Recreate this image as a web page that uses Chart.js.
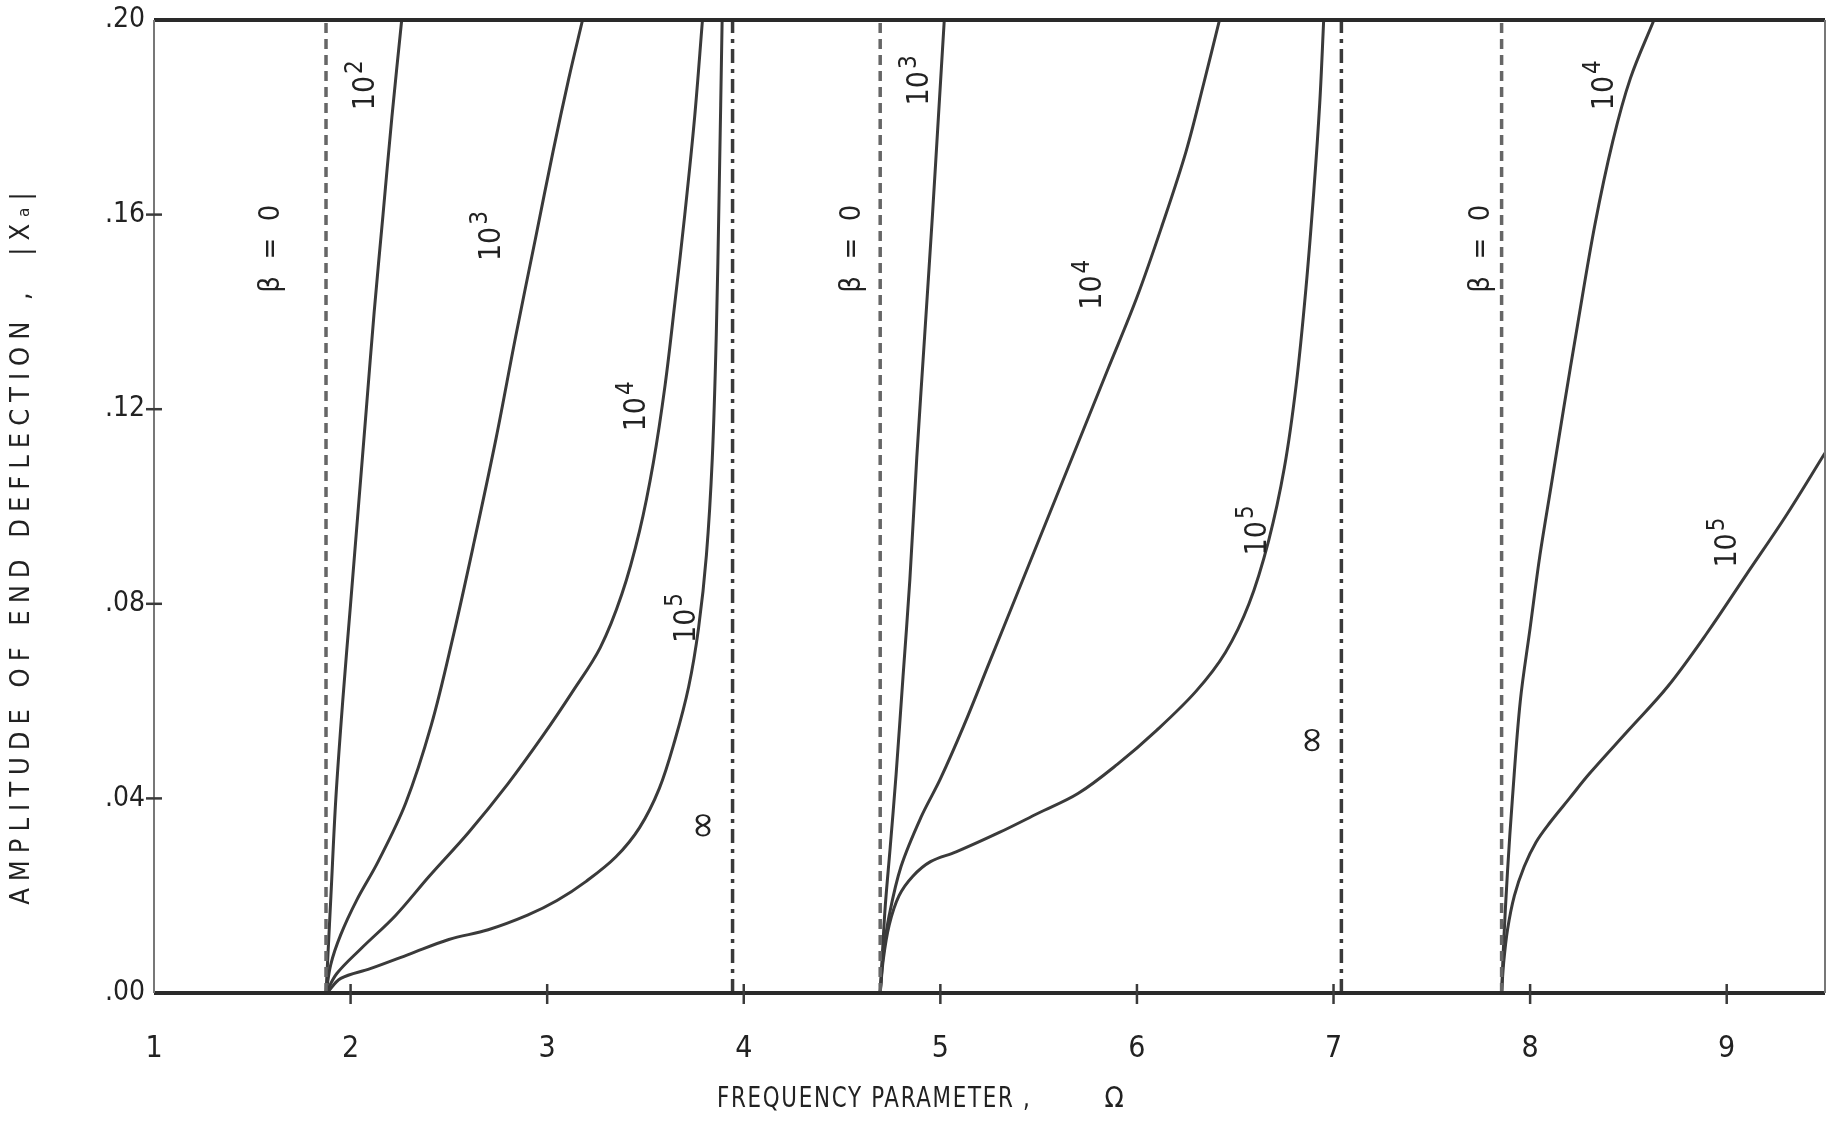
<!DOCTYPE html>
<html>
<head>
<meta charset="utf-8">
<title>Amplitude of end deflection</title>
<script src="https://cdn.jsdelivr.net/npm/chart.js@4.4.1/dist/chart.umd.min.js"></script>
<style>
  html, body { margin: 0; padding: 0; background: #fff; }
  #wrap { width: 1835px; height: 1121px; position: relative; }
</style>
</head>
<body>
<div id="wrap"><canvas id="deflectionChart"></canvas></div>
<script>
// axis ticks
const xTicks = [1, 2, 3, 4, 5, 6, 7, 8, 9];
const yTicks = [0, 0.04, 0.08, 0.12, 0.16, 0.20];

// vertical asymptotes: beta = 0 and beta = infinity
const betaZeroRoots = [1.875, 4.694, 7.855];
const betaInfRoots = [3.943, 7.04];

// first mode
const mode1Beta1e2 = [[1.875, 0], [1.885, 0.008], [1.90, 0.02], [1.925, 0.04], [1.96, 0.06], [2.0, 0.08], [2.04, 0.10], [2.08, 0.12], [2.12, 0.14], [2.165, 0.16], [2.21, 0.18], [2.26, 0.20]];
const mode1Beta1e3 = [[1.875, 0], [1.90, 0.006], [1.95, 0.012], [2.03, 0.019], [2.14, 0.027], [2.28, 0.039], [2.41, 0.055], [2.52, 0.073], [2.63, 0.093], [2.74, 0.114], [2.84, 0.135], [2.94, 0.155], [3.03, 0.173], [3.11, 0.188], [3.18, 0.20]];
const mode1Beta1e4 = [[1.875, 0], [1.93, 0.004], [2.05, 0.009], [2.23, 0.016], [2.4, 0.024], [2.6, 0.033], [2.8, 0.043], [2.98, 0.053], [3.13, 0.062], [3.27, 0.071], [3.38, 0.082], [3.47, 0.095], [3.54, 0.109], [3.6, 0.125], [3.65, 0.142], [3.7, 0.16], [3.75, 0.18], [3.79, 0.20]];
const mode1Beta1e5 = [[1.88, 0], [1.95, 0.003], [2.1, 0.005], [2.3, 0.008], [2.5, 0.011], [2.7, 0.013], [2.9, 0.016], [3.05, 0.019], [3.2, 0.023], [3.35, 0.028], [3.47, 0.034], [3.57, 0.042], [3.65, 0.052], [3.72, 0.063], [3.77, 0.075], [3.81, 0.09], [3.84, 0.11], [3.86, 0.135], [3.875, 0.165], [3.89, 0.20]];

// second mode
const mode2Beta1e3 = [[4.694, 0], [4.705, 0.008], [4.72, 0.018], [4.745, 0.03], [4.775, 0.045], [4.81, 0.065], [4.845, 0.085], [4.88, 0.11], [4.92, 0.135], [4.96, 0.16], [4.99, 0.18], [5.02, 0.20]];
const mode2Beta1e4 = [[4.694, 0], [4.71, 0.008], [4.74, 0.016], [4.8, 0.026], [4.9, 0.036], [5.0, 0.044], [5.12, 0.055], [5.25, 0.068], [5.4, 0.083], [5.55, 0.098], [5.7, 0.113], [5.85, 0.128], [6.0, 0.143], [6.13, 0.158], [6.25, 0.173], [6.34, 0.187], [6.42, 0.20]];
const mode2Beta1e5 = [[4.694, 0], [4.71, 0.007], [4.74, 0.014], [4.79, 0.02], [4.86, 0.024], [4.95, 0.027], [5.08, 0.029], [5.3, 0.033], [5.5, 0.037], [5.7, 0.041], [5.9, 0.047], [6.1, 0.054], [6.3, 0.062], [6.45, 0.07], [6.57, 0.08], [6.67, 0.093], [6.75, 0.108], [6.81, 0.125], [6.86, 0.145], [6.9, 0.165], [6.93, 0.183], [6.95, 0.20]];

// third mode
const mode3Beta1e4 = [[7.855, 0], [7.865, 0.01], [7.885, 0.025], [7.91, 0.04], [7.95, 0.06], [8.0, 0.075], [8.05, 0.09], [8.11, 0.105], [8.17, 0.12], [8.24, 0.137], [8.33, 0.158], [8.42, 0.175], [8.51, 0.188], [8.63, 0.20]];
const mode3Beta1e5 = [[7.855, 0], [7.865, 0.006], [7.885, 0.013], [7.92, 0.02], [7.97, 0.026], [8.03, 0.031], [8.1, 0.035], [8.2, 0.04], [8.3, 0.045], [8.5, 0.054], [8.7, 0.063], [8.9, 0.074], [9.1, 0.086], [9.3, 0.098], [9.5, 0.111]];

// curve labels: [base, exponent, x, y]
const curveLabels = [
    ['10', '2', 2.08, 0.186], ['10', '3', 2.72, 0.155], ['10', '4', 3.46, 0.120], ['10', '5', 3.71, 0.0765],
    ['10', '3', 4.90, 0.187], ['10', '4', 5.78, 0.145], ['10', '5', 6.615, 0.0945],
    ['10', '4', 8.38, 0.186], ['10', '5', 9.01, 0.092]
];
const betaZeroLabels = [[1.60, 0.153], [4.555, 0.153], [7.75, 0.153]];
const infinityLabels = [[3.80, 0.0345], [6.90, 0.052]];

const FONT = "'Liberation Sans Narrow', 'DejaVu Sans Condensed', 'DejaVu Sans', sans-serif";
const INK = '#3a3a3a';

function toPoints(pairs) {
    return pairs.map(p => ({ x: p[0], y: p[1] }));
}

function verticalLine(x) {
    return [{ x: x, y: 0 }, { x: x, y: 0.2 }];
}

const datasets = [];

betaZeroRoots.forEach((root, i) => {
    datasets.push({
        label: 'beta = 0 (' + (i + 1) + ')',
        data: verticalLine(root),
        showLine: true,
        borderColor: '#666',
        borderWidth: 3.5,
        borderDash: [10, 6],
        pointRadius: 0
    });
});

betaInfRoots.forEach((root, i) => {
    datasets.push({
        label: 'beta = inf (' + (i + 1) + ')',
        data: verticalLine(root),
        showLine: true,
        borderColor: INK,
        borderWidth: 3.5,
        borderDash: [14, 6, 4, 6],
        pointRadius: 0
    });
});

[mode1Beta1e2, mode1Beta1e3, mode1Beta1e4, mode1Beta1e5,
 mode2Beta1e3, mode2Beta1e4, mode2Beta1e5,
 mode3Beta1e4, mode3Beta1e5].forEach((curve, i) => {
    datasets.push({
        label: 'curve ' + i,
        data: toPoints(curve),
        showLine: true,
        borderColor: INK,
        borderWidth: 3,
        pointRadius: 0,
        tension: 0.35
    });
});

// frame, cross ticks, titles and in-plot labels
const decorations = {
    id: 'decorations',
    afterDatasetsDraw(chart) {
        const ctx = chart.ctx;
        const area = chart.chartArea;
        const xs = chart.scales.x;
        const ys = chart.scales.y;

        ctx.save();
        ctx.strokeStyle = '#2a2a2a';
        ctx.lineWidth = 4;
        ctx.beginPath();
        ctx.moveTo(area.left, area.top); ctx.lineTo(area.right, area.top);
        ctx.moveTo(area.left, area.bottom); ctx.lineTo(area.right, area.bottom);
        ctx.stroke();
        ctx.lineWidth = 2;
        ctx.strokeStyle = '#777';
        ctx.beginPath();
        ctx.moveTo(area.left, area.top); ctx.lineTo(area.left, area.bottom);
        ctx.moveTo(area.right, area.top); ctx.lineTo(area.right, area.bottom);
        ctx.stroke();

        // small ticks crossing the axes
        ctx.strokeStyle = INK;
        ctx.lineWidth = 2.5;
        xTicks.slice(1).forEach(v => {
            const px = xs.getPixelForValue(v);
            ctx.beginPath();
            ctx.moveTo(px, area.bottom - 9); ctx.lineTo(px, area.bottom + 11);
            ctx.stroke();
        });
        yTicks.slice(1, -1).forEach(v => {
            const py = ys.getPixelForValue(v);
            ctx.beginPath();
            ctx.moveTo(area.left - 8, py); ctx.lineTo(area.left + 8, py);
            ctx.stroke();
        });

        ctx.fillStyle = '#222';
        ctx.textAlign = 'center';
        ctx.textBaseline = 'middle';

        function rotatedText(text, px, py, size) {
            ctx.save();
            ctx.translate(px, py);
            ctx.rotate(-Math.PI / 2);
            ctx.font = size + 'px ' + FONT;
            ctx.fillText(text, 0, 0);
            ctx.restore();
        }

        betaZeroLabels.forEach(p => {
            rotatedText('\u03B2  =  0', xs.getPixelForValue(p[0]), ys.getPixelForValue(p[1]), 29);
        });
        infinityLabels.forEach(p => {
            rotatedText('\u221E', xs.getPixelForValue(p[0]), ys.getPixelForValue(p[1]), 40);
        });
        curveLabels.forEach(l => {
            ctx.save();
            ctx.translate(xs.getPixelForValue(l[2]), ys.getPixelForValue(l[3]));
            ctx.rotate(-Math.PI / 2);
            ctx.font = '30px ' + FONT;
            const w = ctx.measureText(l[0]).width;
            ctx.textAlign = 'left';
            ctx.fillText(l[0], -w / 2 - 5, 0);
            ctx.font = '24px ' + FONT;
            ctx.fillText(l[1], w / 2 - 3, -11);
            ctx.restore();
        });

        // axis titles
        ctx.save();
        ctx.translate(22, 545);
        ctx.rotate(-Math.PI / 2);
        ctx.font = '27px ' + FONT;
        ctx.letterSpacing = '7px';
        ctx.fillText('AMPLITUDE OF END DEFLECTION ,  |X\u2090|', 0, 0);
        ctx.restore();

        ctx.save();
        ctx.translate(717, 1100);
        ctx.scale(0.85, 1);
        ctx.font = '28px ' + FONT;
        ctx.letterSpacing = '2px';
        ctx.textAlign = 'left';
        ctx.fillText('FREQUENCY PARAMETER ,', 0, 0);
        ctx.restore();
        ctx.font = '28px ' + FONT;
        ctx.fillText('\u03A9', 1114, 1100);
        ctx.restore();
    }
};

const ctx = document.getElementById('deflectionChart').getContext('2d');
const deflectionChart = new Chart(ctx, {
    type: 'scatter',
    data: { datasets: datasets },
    options: {
        responsive: true,
        maintainAspectRatio: false,
        animation: false,
        layout: { padding: { top: 20, right: 10, left: 0, bottom: 0 } },
        plugins: {
            legend: { display: false },
            tooltip: { enabled: false }
        },
        elements: { line: { borderCapStyle: 'butt' } },
        scales: {
            x: {
                type: 'linear',
                min: 1,
                max: 9.5,
                afterBuildTicks: scale => { scale.ticks = xTicks.map(v => ({ value: v })); },
                afterFit: scale => { scale.height = 128; },
                grid: { display: false },
                border: { display: false },
                ticks: {
                    color: '#222',
                    padding: 30,
                    font: { family: FONT, size: 30 },
                    callback: v => String(v)
                }
            },
            y: {
                type: 'linear',
                min: 0,
                max: 0.2,
                afterBuildTicks: scale => { scale.ticks = yTicks.map(v => ({ value: v })); },
                afterFit: scale => { scale.width = 154; },
                grid: { display: false },
                border: { display: false },
                ticks: {
                    color: '#222',
                    padding: 1,
                    font: { family: FONT, size: 28 },
                    callback: v => v.toFixed(2).replace(/^0/, '')
                }
            }
        }
    },
    plugins: [decorations]
});
</script>
</body>
</html>
